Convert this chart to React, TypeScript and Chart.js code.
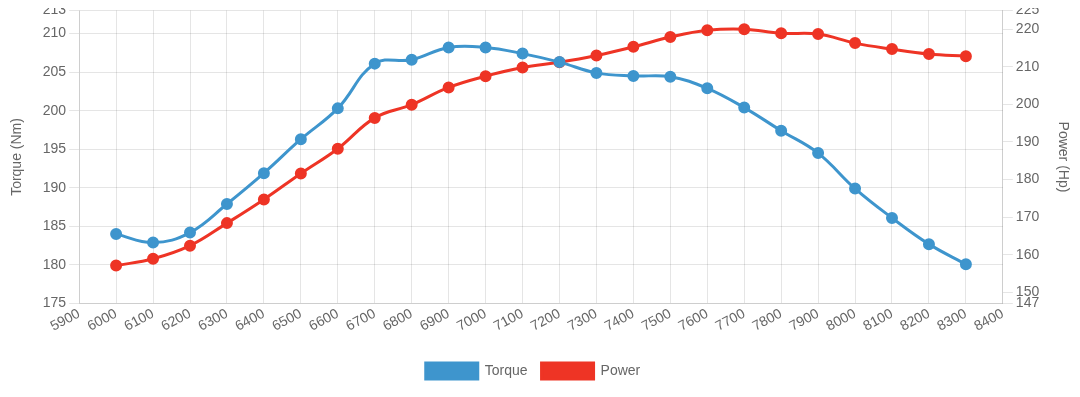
import React, { useEffect, useRef } from "react";
import { Chart, registerables } from "chart.js";

Chart.register(...registerables);

const rpm = [6000, 6100, 6200, 6300, 6400, 6500, 6600, 6700, 6800, 6900, 7000, 7100, 7200, 7300, 7400, 7500, 7600, 7700, 7800, 7900, 8000, 8100, 8200, 8300];
const torque = [184.0, 182.9, 184.2, 187.9, 191.9, 196.3, 200.3, 206.1, 206.6, 208.2, 208.2, 207.4, 206.3, 204.9, 204.5, 204.4, 202.9, 200.4, 197.4, 194.5, 189.9, 186.1, 182.7, 180.1];
const power = [157.1, 158.9, 162.4, 168.4, 174.7, 181.6, 188.2, 196.4, 199.9, 204.5, 207.5, 209.8, 211.2, 213.0, 215.3, 217.9, 219.7, 220.0, 218.9, 218.7, 216.3, 214.7, 213.4, 212.8];
const torqueTicks = [175, 180, 185, 190, 195, 200, 205, 210, 213];
const powerTicks = [147, 150, 160, 170, 180, 190, 200, 210, 220, 225];

const BLUE = "#3e95cd";
const RED = "#ee3425";
const FONT = "'Liberation Sans', Arial, sans-serif";
const GRID = "rgba(0,0,0,0.1)";
const LEGEND_EXTRA = 12;

const legendTweak = {
  id: "legendTweak",
  afterInit(chart: any) {
    const lg = chart.legend;
    if (lg && !lg.__patched) {
      const fit = lg.fit;
      lg.fit = function () {
        fit.call(this);
        this.height += LEGEND_EXTRA;
      };
      lg.__patched = true;
    }
  },
  afterLayout(chart: any) {
    const lg = chart.legend;
    if (lg) {
      lg.left -= 7;
      lg.right -= 7;
      lg.top += LEGEND_EXTRA;
    }
  },
};

export default function App() {
  const ref = useRef<HTMLCanvasElement>(null);
  useEffect(() => {
    if (!ref.current) return;
    const chart = new Chart(ref.current, {
      type: "line",
      plugins: [legendTweak],
      data: {
        datasets: [
          {
            label: "Torque",
            data: rpm.map((x, i) => ({ x, y: torque[i] })),
            borderColor: BLUE,
            backgroundColor: BLUE,
            borderWidth: 3,
            pointRadius: 4.5,
            pointBackgroundColor: BLUE,
            pointBorderColor: BLUE,
            tension: 0.4,
            fill: false,
            yAxisID: "y",
          },
          {
            label: "Power",
            data: rpm.map((x, i) => ({ x, y: power[i] })),
            borderColor: RED,
            backgroundColor: RED,
            borderWidth: 3,
            pointRadius: 4.5,
            pointBackgroundColor: RED,
            pointBorderColor: RED,
            tension: 0.4,
            fill: false,
            yAxisID: "y1",
          },
        ],
      },
      options: {
        animation: false,
        responsive: true,
        maintainAspectRatio: false,
        plugins: {
          legend: {
            position: "bottom",
            labels: {
              boxWidth: 52,
              boxHeight: 16,
              color: "#666",
              font: { family: FONT, size: 14 },
              padding: 14,
            },
          },
          tooltip: { enabled: false },
        },
        scales: {
          x: {
            type: "linear",
            min: 5900,
            max: 8400,
            ticks: {
              stepSize: 100,
              autoSkip: false,
              minRotation: 28,
              maxRotation: 28,
              padding: 2,
              color: "#666",
              font: { family: FONT, size: 14 },
              callback: (v: any) => String(v),
            },
            grid: { color: GRID, drawTicks: false },
          },
          y: {
            type: "linear",
            position: "left",
            min: 175,
            max: 213,
            afterBuildTicks: (axis: any) => {
              axis.ticks = torqueTicks.map((value) => ({ value }));
            },
            ticks: { color: "#666", padding: 3, font: { family: FONT, size: 14 } },
            grid: { color: GRID, tickLength: 10 },
            title: {
              display: true,
              text: "Torque (Nm)",
              color: "#666",
              padding: { top: 4, bottom: 14 },
              font: { family: FONT, size: 14 },
            },
          },
          y1: {
            type: "linear",
            position: "right",
            min: 147,
            max: 225,
            afterBuildTicks: (axis: any) => {
              axis.ticks = powerTicks.map((value) => ({ value }));
            },
            ticks: { color: "#666", padding: 3, font: { family: FONT, size: 14 } },
            grid: { drawOnChartArea: false, color: GRID, tickLength: 10 },
            title: {
              display: true,
              text: "Power (Hp)",
              color: "#666",
              padding: { top: 4, bottom: 12 },
              font: { family: FONT, size: 14 },
            },
          },
        },
      },
    });
    return () => chart.destroy();
  }, []);
  return (
    <div style={{ width: 1070, height: 390, position: "relative", top: -9, left: -3 }}>
      <canvas ref={ref} />
    </div>
  );
}
